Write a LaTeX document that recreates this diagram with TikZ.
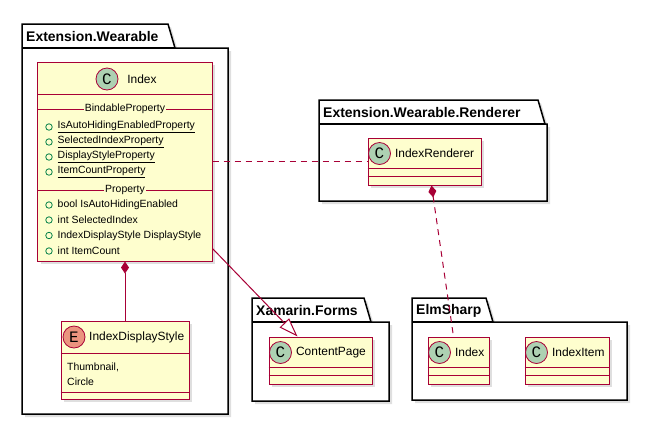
\documentclass[tikz,border=0pt]{standalone}
\usepackage{fontspec}
\setmainfont{Liberation Sans}
\setmonofont{Liberation Mono}
\usepackage{xcolor}
\usetikzlibrary{arrows.meta,shadows}
\definecolor{umlborder}{HTML}{A80036}
\definecolor{umlfill}{HTML}{FEFECE}
\definecolor{classbadge}{HTML}{ADD1B2}
\definecolor{enumbadge}{HTML}{EB937F}
\definecolor{publicmark}{HTML}{038048}
\tikzstyle{umlbox} = [
    draw=umlborder,
    fill=umlfill,
    line width=1bp,
    rectangle,
    inner sep=0pt,
    drop shadow={shadow xshift=3bp, shadow yshift=-3bp, opacity=0.25}
    ]
\tikzstyle{pkgline} = [
    draw=black,
    line width=1.5bp,
    line join=miter
    ]
\tikzstyle{pkgtitle} = [
    font=\fontsize{14}{16}\selectfont\bfseries,
    inner sep=0pt
    ]
\tikzstyle{badge} = [
    circle,
    draw=umlborder,
    fill=classbadge,
    line width=0.8bp,
    inner sep=0pt,
    minimum size=22bp,
    font=\fontsize{16}{16}\selectfont\ttfamily
    ]
\tikzstyle{clsname} = [
    font=\fontsize{12}{14}\selectfont,
    inner sep=0pt
    ]
\tikzstyle{attr} = [
    font=\fontsize{10.5}{12}\selectfont,
    anchor=west,
    inner sep=0pt
    ]
\tikzstyle{pubmark} = [
    circle,
    draw=publicmark,
    line width=0.8bp,
    minimum size=6.5bp,
    inner sep=0pt
    ]
\tikzstyle{sepline} = [draw=umlborder, line width=1bp]
\tikzstyle{conn} = [draw=umlborder, line width=1bp]
\tikzstyle{depline} = [conn, dash pattern=on 6bp off 5bp]
\newcommand{\umlpackage}[7]{% name, left, top, tab right, right, bottom, title
\draw[pkgline, fill=white, drop shadow={shadow xshift=3bp, shadow yshift=-3bp, opacity=0.25}]
    (#2,#3) -- (#4,#3) -- ({#4+7},{#3+24}) -- (#5,{#3+24}) -- (#5,#6) -- (#2,#6) -- cycle;
\draw[pkgline] (#2,{#3+24}) -- ({#4+7},{#3+24});
\node[pkgtitle, anchor=west] (#1) at ({#2+4},{#3+12.5}) {#7};
}
\newcommand{\simpleclass}[5]{% name, x, y, width, label
\node[umlbox, minimum width=#4bp, minimum height=47bp] (#1) at (#2,#3) {};
\draw[sepline] ([yshift=-31bp]#1.north west) -- ([yshift=-31bp]#1.north east);
\draw[sepline] ([yshift=-39bp]#1.north west) -- ([yshift=-39bp]#1.north east);
\node[badge] (#1b) at ([xshift=12bp, yshift=-16bp]#1.north west) {C};
\node[clsname, anchor=west] (#1n) at ([xshift=4bp]#1b.east) {#5};
}
\newcommand{\pubattr}[3]{% name, y, text
\node[pubmark] (#1m) at (49,#2) {};
\node[attr] (#1) at (57.5,#2) {#3};
}

\begin{document}
\begin{tikzpicture}[x=1bp, y=-1bp]
\useasboundingbox (0,0) rectangle (647,426);

% packages
\umlpackage{wearpkg}{22}{24}{168}{228}{414}{Extension.Wearable}
\umlpackage{rendpkg}{319}{100}{538}{547}{201}{Extension.Wearable.Renderer}
\umlpackage{xfpkg}{252}{298}{364}{389}{401}{Xamarin.Forms}
\umlpackage{elmpkg}{412}{298}{486}{627}{400}{ElmSharp}

% Index
\node[umlbox, minimum width=174bp, minimum height=199bp] (idx) at (125,161.5) {};
\draw[sepline] (idx.west |- 0,94) -- (idx.east |- 0,94);
\draw[sepline] (idx.west |- 0,109) -- (idx.east |- 0,109);
\draw[sepline] (idx.west |- 0,190) -- (idx.east |- 0,190);
\node[badge] (idxb) at (107,79) {C};
\node[clsname] (idxn) at (142,79) {Index};
\node[attr, anchor=center, fill=umlfill, inner xsep=1bp] (bindsec) at (125,109) {BindableProperty};
\pubattr{a1}{127}{\underline{IsAutoHidingEnabledProperty}}
\pubattr{a2}{142}{\underline{SelectedIndexProperty}}
\pubattr{a3}{157}{\underline{DisplayStyleProperty}}
\pubattr{a4}{172}{\underline{ItemCountProperty}}
\node[attr, anchor=center, fill=umlfill, inner xsep=1bp] (propsec) at (125,190) {Property};
\pubattr{p1}{205}{bool IsAutoHidingEnabled}
\pubattr{p2}{220}{int SelectedIndex}
\pubattr{p3}{235.5}{IndexDisplayStyle DisplayStyle}
\pubattr{p4}{251}{int ItemCount}

% IndexDisplayStyle
\node[umlbox, minimum width=128bp, minimum height=78bp] (enm) at (125,360) {};
\draw[sepline] (enm.west |- 0,353) -- (enm.east |- 0,353);
\draw[sepline] (enm.west |- 0,392) -- (enm.east |- 0,392);
\node[badge, fill=enumbadge] (enmb) at (74,337) {E};
\node[clsname, anchor=west] (enmn) at (89,337) {IndexDisplayStyle};
\node[attr] (v1) at (67,367) {Thumbnail,};
\node[attr] (v2) at (67,381.5) {Circle};

% other classes
\simpleclass{rend}{424.5}{161.5}{113}{IndexRenderer}
\simpleclass{cp}{320.5}{360.5}{103}{ContentPage}
\simpleclass{esidx}{458.5}{360.5}{61}{Index}
\simpleclass{esitem}{567}{360.5}{84}{IndexItem}

% relations
\draw[depline] (idx.east) -- (rend.west);
\draw[conn, {Diamond[length=12bp, width=8bp]}-] (idx.south) -- (enm.north);
\draw[conn, -{Triangle[length=19bp, width=13bp, fill=white]}] ([yshift=-87bp]idx.east) -- ([xshift=-23bp]cp.north);
\draw[depline, {Diamond[length=12bp, width=8bp]}-] ([xshift=7bp]rend.south) -- ([xshift=-5bp]esidx.north);
\end{tikzpicture}
\end{document}
